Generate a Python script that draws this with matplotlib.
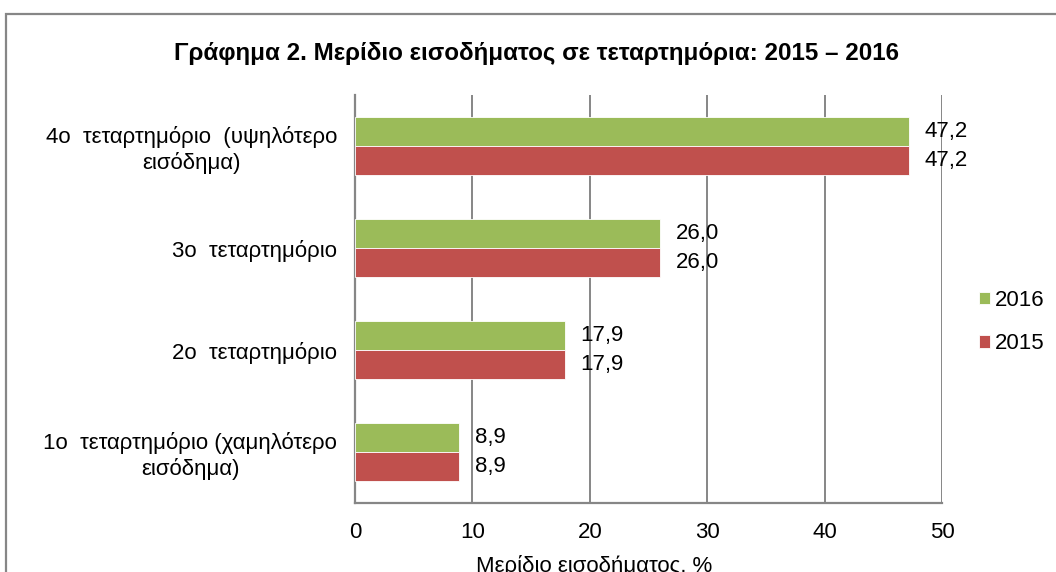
import numpy as np
import matplotlib.pyplot as plt
from matplotlib.patches import Rectangle

plt.rcParams['font.family'] = ['Liberation Sans', 'DejaVu Sans']

categories = ['1ο  τεταρτημόριο (χαμηλότερο\nεισόδημα)',
              '2ο  τεταρτημόριο',
              '3ο  τεταρτημόριο',
              '4ο  τεταρτημόριο  (υψηλότερο\nεισόδημα)']
share_2015 = [8.9, 17.9, 26.0, 47.2]
share_2016 = [8.9, 17.9, 26.0, 47.2]
xticks = [0, 10, 20, 30, 40, 50]

green = '#9BBB59'
red = '#C0504D'
gray = '#868686'
fs = 16

fig = plt.figure(figsize=(10.56, 5.72), dpi=100)
ax = fig.add_axes([355/1056, 1 - 503/572, 587/1056, 408/572])

y = np.arange(len(categories))
h = 0.284
b16 = ax.barh(y + h/2, share_2016, height=h, color=green, edgecolor='white', linewidth=0.6, label='2016', zorder=3)
b15 = ax.barh(y - h/2, share_2015, height=h, color=red, edgecolor='white', linewidth=0.6, label='2015', zorder=3)

# value labels to the right of each bar, decimal comma
for bars, vals in [(b16, share_2016), (b15, share_2015)]:
    for bar, v in zip(bars, vals):
        ax.annotate(f'{v:.1f}'.replace('.', ','),
                    xy=(v, bar.get_y() + bar.get_height()/2),
                    xytext=(11, 0), textcoords='offset points',
                    ha='left', va='center', fontsize=fs, zorder=4)

ax.set_xlim(0, 50)
ax.set_ylim(-0.5, 3.5)
ax.set_xticks(xticks)
ax.set_yticks(y)
ax.set_yticklabels(categories, multialignment='center', linespacing=1.22)
ax.tick_params(axis='both', length=0, labelsize=fs)
ax.tick_params(axis='x', pad=14)
ax.tick_params(axis='y', pad=13)
ax.grid(axis='x', color=gray, linewidth=1.4, zorder=0)
for s in ['top', 'right']:
    ax.spines[s].set_visible(False)
for s in ['left', 'bottom']:
    ax.spines[s].set_color(gray)
    ax.spines[s].set_linewidth(1.6)

ax.set_xlabel('Μερίδιο εισοδήματος, %', fontsize=fs)
ax.xaxis.set_label_coords((594 - 355)/587, (503 - 555)/408)
ax.xaxis.label.set_va('top')

ax.legend(handles=[b16, b15], loc='center left', bbox_to_anchor=(979/1056, 1 - 322/572),
          bbox_transform=fig.transFigure, frameon=False, fontsize=fs,
          handlelength=0.5, handleheight=0.5, handletextpad=0.2, labelspacing=1.0,
          borderaxespad=0, borderpad=0)

fig.text(537/1056, 1 - 60/572, 'Γράφημα 2. Μερίδιο εισοδήματος σε τεταρτημόρια: 2015 – 2016',
         ha='center', va='baseline', fontsize=17.4, fontweight='bold')

# outer chart frame, cut by the right and bottom edges like the original
fig.patches.append(Rectangle((6/1056, -0.1), 1.2, 1.1 - 14/572, transform=fig.transFigure,
                             fill=False, edgecolor=gray, linewidth=1.6))

fig.savefig('out.png', dpi=100)
